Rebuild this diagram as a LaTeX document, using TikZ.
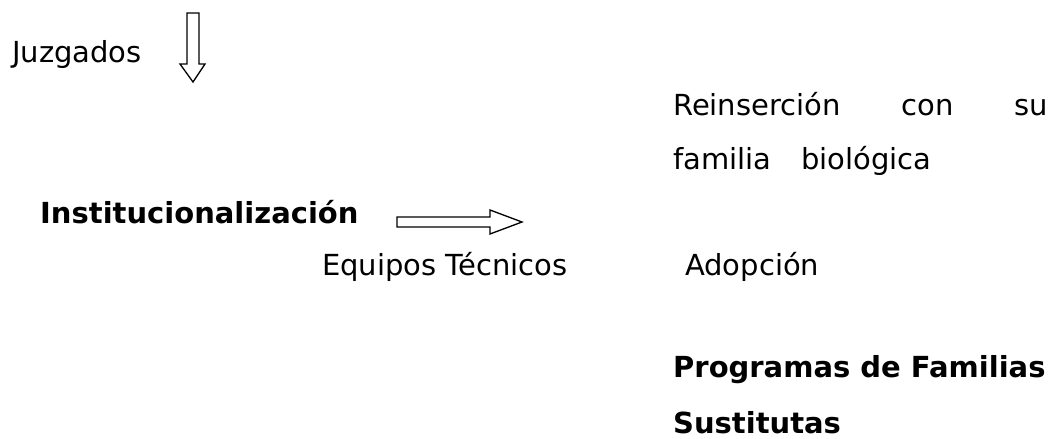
\documentclass[tikz,border=0pt]{standalone}
\usepackage{fontspec}
\setmainfont{DejaVu Sans}
\tikzset{
  lbl/.style={anchor=base west, inner sep=0pt, font=\fontsize{29}{34}\selectfont},
  lblbold/.style={lbl, font=\fontsize{29}{34}\selectfont\bfseries},
  blockarrow/.style={draw=black, line width=1.3pt, fill=white, line join=miter}
}
\begin{document}
\begin{tikzpicture}[x=1pt, y=-1pt]
  \useasboundingbox (0,0) rectangle (1058,439);
  \draw
    (12,62) node[lbl] (juzgados) {Juzgados}
    (673,115) node[lbl] (reinsercion) {\makebox[375pt][s]{Reinserción\hfill con\hfill su}}
    (673,169) node[lbl] (familia) {\makebox[258pt][s]{familia\hfill biológica}}
    (40,223) node[lblbold] (institucion) {Institucionalización}
    (322,275) node[lbl] (equipos) {Equipos Técnicos}
    (685,275) node[lbl] (adopcion) {Adopción}
    (673,377) node[lblbold] (programas) {Programas de Familias}
    (673,433) node[lblbold] (sustitutas) {Sustitutas};
  \begin{scope}[blockarrow]
    \draw (187,13) -- (199,13) -- (199,64) -- (205,64) -- (193,82)
      -- (180,64) -- (187,64) -- cycle;
    \draw (397,217) -- (490,217) -- (490,210) -- (522,222) -- (490,234)
      -- (490,227) -- (397,227) -- cycle;
  \end{scope}
\end{tikzpicture}
\end{document}
